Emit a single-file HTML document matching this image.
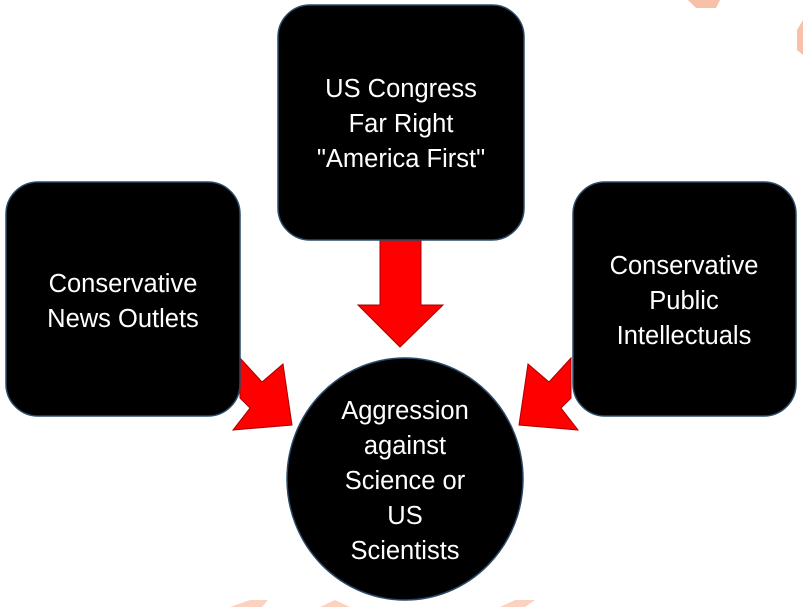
<!DOCTYPE html>
<html><head><meta charset="utf-8"><style>
html,body{margin:0;padding:0;background:#fff;}
svg{display:block;}
text{font-family:"Liberation Sans",sans-serif;font-size:25.5px;fill:#fff;text-anchor:middle;}
</style></head><body>
<svg width="803" height="607" viewBox="0 0 803 607" xmlns="http://www.w3.org/2000/svg">
<rect width="803" height="607" fill="#fff"/>
<polygon points="688,0 720,0 716,8 696,8" fill="#f8c0a8"/>
<polygon points="797,30 803,20 803,55 797,50" fill="#f8c0a8"/>
<polygon points="230,607 250,600 268,600 262,607" fill="#fbd2c0"/>
<polygon points="320,607 335,600 350,607" fill="#fbd2c0"/>
<polygon points="500,607 515,600 535,600 525,607" fill="#fbd2c0"/>
<polygon points="380,240 421,240 421,305 443,305 400,347 358,305 380,305" fill="#f00" stroke="#a00" stroke-width="1"/>
<polygon points="240,358 262,382 283,364 292,425 233,430 250,408 240,398" fill="#f00" stroke="#a00" stroke-width="1"/>
<polygon points="571,358 549,382 528,364 519,425 578,430 561,408 571,398" fill="#f00" stroke="#a00" stroke-width="1"/>
<rect x="278" y="5" width="246" height="235" rx="32" fill="#000" stroke="#2a4a6a" stroke-width="1.5"/>
<rect x="6" y="182" width="234" height="234" rx="32" fill="#000" stroke="#2a4a6a" stroke-width="1.5"/>
<rect x="573" y="182" width="223" height="234" rx="32" fill="#000" stroke="#2a4a6a" stroke-width="1.5"/>
<ellipse cx="405" cy="479" rx="118" ry="121" fill="#000" stroke="#2a4a6a" stroke-width="1.5"/>
<text x="401" y="97">US Congress</text>
<text x="401" y="132">Far Right</text>
<text x="401" y="167">"America First"</text>
<text x="123" y="292">Conservative</text>
<text x="123" y="327">News Outlets</text>
<text x="684" y="274">Conservative</text>
<text x="684" y="309">Public</text>
<text x="684" y="344">Intellectuals</text>
<text x="405" y="419">Aggression</text>
<text x="405" y="454">against</text>
<text x="405" y="489">Science or</text>
<text x="405" y="524">US</text>
<text x="405" y="559">Scientists</text>
</svg>
</body></html>
